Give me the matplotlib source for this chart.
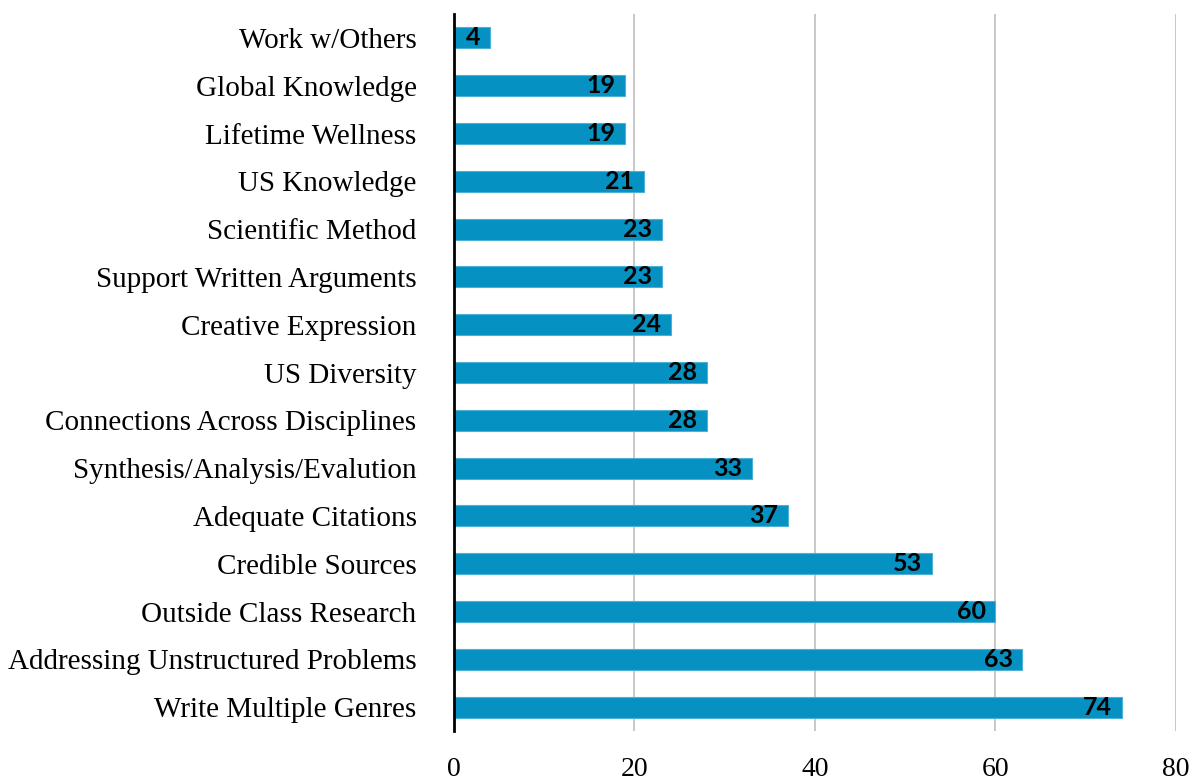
import matplotlib.pyplot as plt

# Categories listed bottom to top
categories = [
    "Write Multiple Genres",
    "Addressing Unstructured Problems",
    "Outside Class Research",
    "Credible Sources",
    "Adequate Citations",
    "Synthesis/Analysis/Evalution",
    "Connections Across Disciplines",
    "US Diversity",
    "Creative Expression",
    "Support Written Arguments",
    "Scientific Method",
    "US Knowledge",
    "Lifetime Wellness",
    "Global Knowledge",
    "Work w/Others",
]
values = [74, 63, 60, 53, 37, 33, 28, 28, 24, 23, 23, 21, 19, 19, 4]
x_ticks = [0, 20, 40, 60, 80]

bar_color = "#0591C2"

fig = plt.figure(figsize=(11.93, 7.81), dpi=100)
ax = fig.add_axes([0.3806, 0.064, 0.605, 0.918])

y = range(len(categories))
bars = ax.barh(y, values, height=0.44, color=bar_color,
               edgecolor="#4FB0D6", linewidth=0.8, zorder=3)

for yi, v in zip(y, values):
    ax.annotate(str(v), xy=(v, yi), xytext=(-7, 0), textcoords="offset points",
                ha="right", va="center", fontsize=18, fontweight="bold",
                family="Lato", color="black", zorder=4)

ax.set_xlim(0, 80)
ax.set_ylim(-0.5, len(categories) - 0.5)
ax.set_xticks(x_ticks)
ax.set_xticklabels([str(t) for t in x_ticks], family="Liberation Serif", fontsize=20)
ax.set_yticks(list(y))
ax.set_yticklabels(categories, family="Liberation Serif", fontsize=21)
ax.tick_params(axis="x", length=0, pad=19)
ax.tick_params(axis="y", length=0, pad=27)

ax.grid(axis="x", color="#BFBFBF", linewidth=1.2, zorder=0)
for s in ["top", "right", "bottom"]:
    ax.spines[s].set_visible(False)
ax.spines["left"].set_color("black")
ax.spines["left"].set_linewidth(2)
ax.spines["left"].set_zorder(5)

fig.savefig("out.png", dpi=100)
